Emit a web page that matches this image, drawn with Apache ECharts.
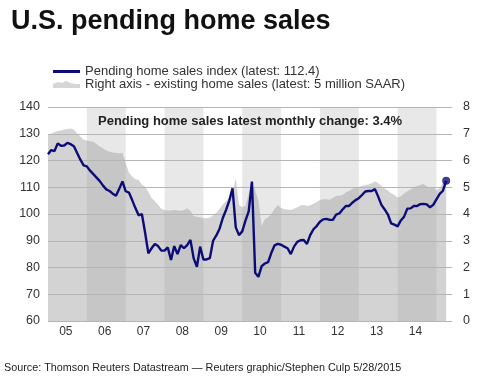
<!DOCTYPE html>
<html>
<head>
<meta charset="utf-8">
<script src="https://cdn.jsdelivr.net/npm/echarts@6/dist/echarts.min.js"></script>
<style>
html, body { margin: 0; padding: 0; background: #fff; }
#chart { width: 500px; height: 376px; }
</style>
</head>
<body>
<div id="chart"></div>
<script>
// monthly, Jan 2005 .. Apr 2015
const pendingIndex = [
	122.3, 123.9, 123.5, 126.4, 125.5, 125.6, 126.6, 126.1, 125.3, 122.8, 120.3, 118.2, // 2005
	117.8, 116.2, 114.9, 113.6, 112.3, 110.6, 109.2, 108.6, 107.6, 106.8, 109.4, 112.2, // 2006
	108.5, 108.0, 105.2, 102.2, 99.5, 100.0, 93.0, 85.3, 87.2, 88.8, 88.0, 86.3, // 2007
	86.3, 87.5, 82.8, 88.0, 85.0, 88.4, 87.2, 88.4, 90.3, 83.4, 80.3, 87.8, // 2008
	83.0, 83.0, 83.5, 90.0, 92.0, 94.5, 98.5, 101.5, 105.0, 109.6, 95.0, 92.1, // 2009
	93.5, 97.5, 101.0, 112.1, 78.0, 76.5, 80.5, 81.5, 82.0, 85.5, 88.3, 88.8, // 2010
	88.5, 87.8, 87.2, 85.0, 87.8, 89.6, 90.2, 90.3, 88.8, 92.1, 94.3, 95.5, // 2011
	97.1, 98.0, 98.2, 97.8, 97.8, 99.8, 100.2, 101.7, 103.0, 103.0, 104.2, 105.2, // 2012
	105.9, 107.1, 108.4, 108.6, 108.6, 109.3, 106.5, 103.4, 101.7, 99.8, 96.5, 96.0, // 2013
	95.4, 97.6, 99.0, 102.0, 102.1, 103.0, 103.0, 103.7, 103.8, 103.6, 102.5, 103.4, // 2014
	105.5, 107.5, 108.7, 112.4 // 2015
];

// existing home sales, million SAAR (right axis)
const existingSales = [
	6.98, 7.00, 7.06, 7.10, 7.12, 7.16, 7.18, 7.20, 7.15, 7.02, 6.90, 6.78,
	6.75, 6.72, 6.70, 6.62, 6.52, 6.45, 6.38, 6.33, 6.30, 6.28, 6.27, 6.28,
	5.90, 5.55, 5.40, 5.30, 5.27, 5.10, 5.02, 4.83, 4.60, 4.48, 4.35, 4.20,
	4.15, 4.12, 4.13, 4.15, 4.13, 4.12, 4.15, 4.21, 4.12, 3.92, 3.90, 3.88,
	3.84, 3.84, 3.86, 3.95, 4.05, 4.20, 4.35, 4.50, 4.60, 4.75, 5.35, 4.35,
	4.25, 4.30, 4.75, 5.15, 4.90, 4.50, 3.55, 3.80, 3.88, 4.00, 4.20, 4.33,
	4.22, 4.18, 4.17, 4.15, 4.20, 4.25, 4.32, 4.34, 4.30, 4.33, 4.38, 4.45,
	4.52, 4.55, 4.55, 4.53, 4.60, 4.67, 4.68, 4.71, 4.80, 4.86, 4.94, 4.98,
	5.02, 5.05, 5.08, 5.10, 5.15, 5.22, 5.15, 5.05, 4.95, 4.88, 4.78, 4.71,
	4.62, 4.66, 4.77, 4.85, 4.92, 5.00, 5.05, 5.08, 5.12, 5.04, 4.96, 5.02,
	4.90, 4.96, 5.17, 5.04
];

const yearLabels = ['05', '06', '07', '08', '09', '10', '11', '12', '13', '14'];
const shadedYears = ['06', '08', '10', '12', '14'];
const leftTicks = [60, 140, 10];
const rightTicks = [0, 8, 1];

const lineName = 'Pending home sales index (latest: 112.4)';
const areaName = 'Right axis - existing home sales (latest: 5 million SAAR)';
const font = 'Liberation Sans, Arial, sans-serif';

let chart = echarts.init(document.getElementById('chart'));

// year label -> month offset from Jan 2005
function yearStart(label) {
	return yearLabels.indexOf(label) * 12;
}

let option = {
	animation: false,
	textStyle: { fontFamily: font },
	title: [
		{
			text: 'U.S. pending home sales',
			left: 11, top: 8, padding: 0,
			textStyle: { fontFamily: font, fontSize: 27, fontWeight: 'bold', color: '#111' }
		},
		{
			text: 'Pending home sales latest monthly change: 3.4%',
			left: 98, top: 115, padding: 0,
			textStyle: { fontFamily: font, fontSize: 13, fontWeight: 'bold', color: '#222' }
		},
		{
			text: 'Source: Thomson Reuters Datastream \u2014 Reuters graphic/Stephen Culp 5/28/2015',
			left: 4, top: 363, padding: 0,
			textStyle: { fontFamily: font, fontSize: 10.8, fontWeight: 'normal', color: '#222' }
		}
	],
	legend: [
		{
			left: 53, top: 65, padding: 0,
			itemWidth: 27, itemHeight: 3, itemGap: 8,
			textStyle: { fontFamily: font, fontSize: 13, color: '#333' },
			data: [{ name: lineName, icon: 'rect' }]
		},
		{
			left: 53, top: 78, padding: 0,
			itemWidth: 27, itemHeight: 7, itemGap: 8,
			textStyle: { fontFamily: font, fontSize: 13, color: '#333' },
			data: [{
				name: areaName,
				icon: 'path://M0,3 L5,1 L9,2 L13,0 L18,2 L22,3 L27,3 L27,7 L0,7 Z',
				itemStyle: { color: '#d6d6d6' }
			}]
		}
	],
	grid: { left: 48, right: 48, top: 107, bottom: 55 },
	xAxis: {
		type: 'value',
		min: 0,
		max: 124.8,
		axisLine: { show: false },
		axisTick: { show: false },
		splitLine: { show: false },
		axisLabel: {
			customValues: yearLabels.map((y, i) => i * 12 + 5.5),
			formatter: (v) => yearLabels[Math.round((v - 5.5) / 12)],
			fontFamily: font, fontSize: 12, color: '#333', margin: 5
		}
	},
	yAxis: [
		{
			type: 'value',
			min: leftTicks[0], max: leftTicks[1], interval: leftTicks[2],
			z: 3,
			axisLine: { show: false },
			axisTick: { show: false },
			axisLabel: { fontFamily: font, fontSize: 12.5, color: '#333', margin: 8 },
			splitLine: { lineStyle: { color: '#b5b5b5', width: 1 } }
		},
		{
			type: 'value',
			position: 'right',
			min: rightTicks[0], max: rightTicks[1], interval: rightTicks[2],
			axisLine: { show: false },
			axisTick: { show: false },
			axisLabel: { fontFamily: font, fontSize: 12.5, color: '#333', margin: 11 },
			splitLine: { show: false }
		}
	],
	series: [
		{
			type: 'line',
			data: [],
			z: 1,
			silent: true,
			markArea: {
				silent: true,
				itemStyle: { color: '#e8e8e8' },
				data: shadedYears.map(y => [{ xAxis: yearStart(y) }, { xAxis: yearStart(y) + 12 }])
			}
		},
		{
			name: areaName,
			type: 'line',
			yAxisIndex: 1,
			z: 2,
			symbol: 'none',
			silent: true,
			itemStyle: { color: '#d6d6d6' },
			lineStyle: { width: 0 },
			areaStyle: { color: 'rgba(150,150,150,0.42)', opacity: 1 },
			data: existingSales.map((v, i) => [i, v])
		},
		{
			name: lineName,
			type: 'line',
			yAxisIndex: 0,
			z: 4,
			symbol: 'none',
			itemStyle: { color: '#0c0c78' },
			lineStyle: { color: '#0c0c78', width: 2.4 },
			data: pendingIndex.map((v, i) => [i, v])
		},
		{
			type: 'scatter',
			yAxisIndex: 0,
			z: 5,
			symbolSize: 8,
			itemStyle: { color: '#0c0c78' },
			data: [[pendingIndex.length - 1, pendingIndex[pendingIndex.length - 1]]]
		}
	]
};

chart.setOption(option);
</script>
</body>
</html>
